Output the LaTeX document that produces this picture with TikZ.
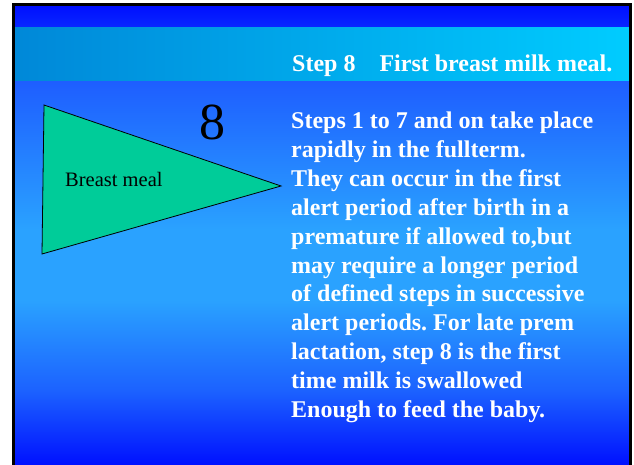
\documentclass[tikz,border=0pt]{standalone}
\usepackage{fontspec}
\setmainfont{Liberation Serif}
\frenchspacing

\definecolor{bgtop}{HTML}{0010FF}
\definecolor{bgupper}{HTML}{1E5EFF}
\definecolor{bglight}{HTML}{2AA2FF}
\definecolor{bglower}{HTML}{1C62FF}
\definecolor{bandleft}{HTML}{0088D8}
\definecolor{bandright}{HTML}{00CCFF}
\definecolor{meal}{HTML}{00CC99}

\pgfdeclareverticalshading{slidefade}{100bp}{color(0bp)=(bgtop); color(25.5bp)=(bgtop);
  color(33.6bp)=(bglower); color(43.3bp)=(bglight); color(50.9bp)=(bglight);
  color(66.9bp)=(bgupper); color(75bp)=(bgtop); color(100bp)=(bgtop)}

\tikzset{
  bodyline/.style={anchor=base west, inner sep=0pt, text=white,
    font=\fontsize{24}{28.8}\selectfont\bfseries},
}

\begin{document}
\begin{tikzpicture}[x=1pt,y=-1pt]
      \useasboundingbox (0,0) rectangle (634,465);
      \clip (0,0) rectangle (634,465);

      % slide
      \shade[shading=slidefade] (15,6) rectangle (629,470);
      \shade[left color=bandleft, right color=bandright] (15,28) rectangle (629,81);
      \draw[line width=3pt] (13.5,4.5) rectangle (630.5,475);

      \node (title) at (292,72) [bodyline]
      {Step 8\quad First breast milk meal.};

      % triangle
      \draw[fill=meal, line width=0.8pt, line join=miter]
      (44,105) -- (281,186) -- (42,254) -- cycle;

      \node (meal) at (65,186) [anchor=base west, inner sep=0pt,
      font=\fontsize{20.5}{24}\selectfont] {Breast meal};

      \node (eight) at (212,140) [anchor=base, inner sep=0pt,
      font=\fontsize{52}{60}\selectfont] {8};

      % text
      \foreach \txt [count=\i] in {Steps 1 to 7 and on take place,
        rapidly in the fullterm., They can occur in the first,
        alert period after birth in a, {premature if allowed to,but},
        may require a longer period, of defined steps in successive,
        alert periods. For late prem, {lactation, step 8 is the first},
        time milk is swallowed, Enough to feed the baby.}
      \node (line\i) at (291,{129+28.8*(\i-1)}) [bodyline] {\txt};
\end{tikzpicture}
\end{document}
